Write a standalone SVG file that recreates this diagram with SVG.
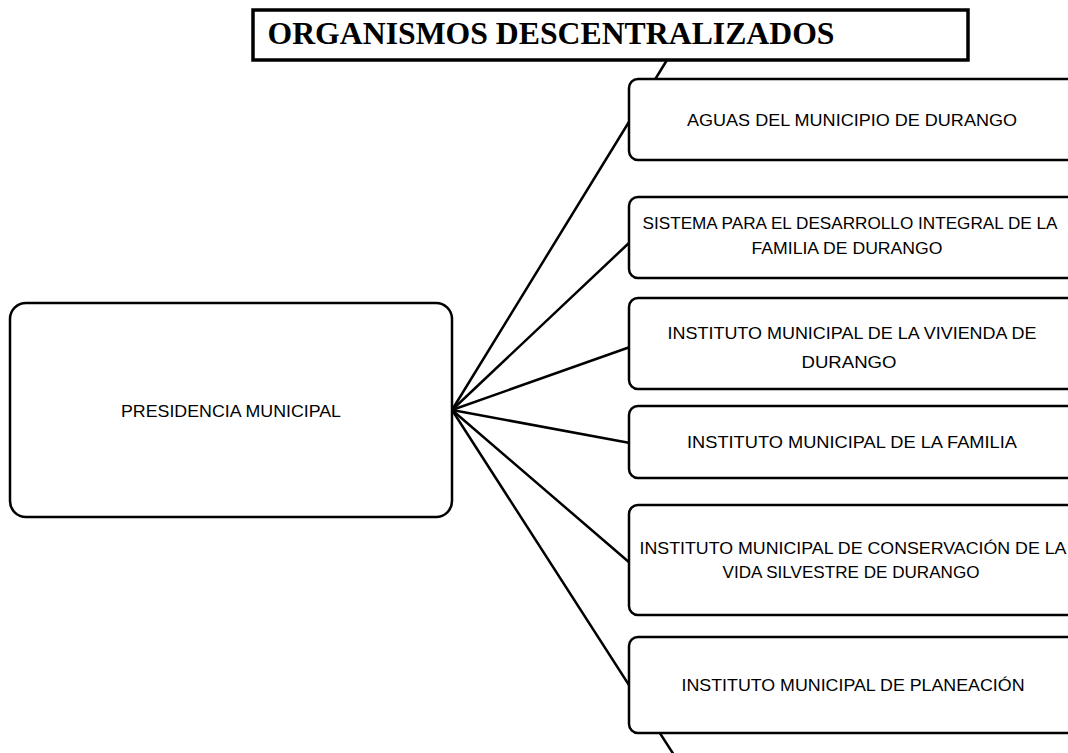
<svg xmlns="http://www.w3.org/2000/svg" width="1068" height="753" viewBox="0 0 1068 753">
<style>
.bx{fill:#fff;stroke:#000;stroke-width:2.5}
.ln{stroke:#000;stroke-width:2.5;fill:none;stroke-linecap:round}
.t{font-family:"Liberation Sans",Arial,sans-serif;font-size:17px;fill:#000;text-anchor:middle}
.tt{font-family:"Liberation Serif","Times New Roman",serif;font-size:31px;font-weight:bold;fill:#000;text-anchor:middle}
</style>
<rect width="1068" height="753" fill="#fff"/>
<g id="connectors">
<line class="ln" x1="452" y1="410" x2="667" y2="60"/>
<line class="ln" x1="452" y1="410" x2="630" y2="242"/>
<line class="ln" x1="452" y1="410" x2="630" y2="347"/>
<line class="ln" x1="452" y1="410" x2="630" y2="443"/>
<line class="ln" x1="452" y1="410" x2="630" y2="563"/>
<line class="ln" x1="452" y1="410" x2="674" y2="755"/>
</g>
<g id="title">
<rect x="253" y="10" width="715" height="50" fill="#fff" stroke="#000" stroke-width="3.5"/>
<text class="tt" x="551" y="44" textLength="567" lengthAdjust="spacingAndGlyphs">ORGANISMOS DESCENTRALIZADOS</text>
</g>
<g id="presidencia">
<rect class="bx" x="10" y="303" width="442" height="214" rx="16"/>
<text class="t" x="231" y="417" textLength="220" lengthAdjust="spacingAndGlyphs">PRESIDENCIA MUNICIPAL</text>
</g>
<g id="aguas">
<rect class="bx" x="629" y="79" width="460" height="81" rx="9"/>
<text class="t" x="852" y="126" textLength="330" lengthAdjust="spacingAndGlyphs">AGUAS DEL MUNICIPIO DE DURANGO</text>
</g>
<g id="dif">
<rect class="bx" x="629" y="197" width="460" height="81" rx="9"/>
<text class="t" x="850" y="229" textLength="415" lengthAdjust="spacingAndGlyphs">SISTEMA PARA EL DESARROLLO INTEGRAL DE LA</text>
<text class="t" x="847" y="254" textLength="191" lengthAdjust="spacingAndGlyphs">FAMILIA DE DURANGO</text>
</g>
<g id="vivienda">
<rect class="bx" x="629" y="298" width="460" height="91" rx="9"/>
<text class="t" x="852" y="339" textLength="369" lengthAdjust="spacingAndGlyphs">INSTITUTO MUNICIPAL DE LA VIVIENDA DE</text>
<text class="t" x="849" y="368" textLength="95" lengthAdjust="spacingAndGlyphs">DURANGO</text>
</g>
<g id="familia">
<rect class="bx" x="629" y="406" width="460" height="72" rx="9"/>
<text class="t" x="852" y="448" textLength="330" lengthAdjust="spacingAndGlyphs">INSTITUTO MUNICIPAL DE LA FAMILIA</text>
</g>
<g id="conservacion">
<rect class="bx" x="629" y="505" width="460" height="110" rx="9"/>
<text class="t" x="853" y="554" textLength="427" lengthAdjust="spacingAndGlyphs">INSTITUTO MUNICIPAL DE CONSERVACIÓN DE LA</text>
<text class="t" x="851" y="578" textLength="257" lengthAdjust="spacingAndGlyphs">VIDA SILVESTRE DE DURANGO</text>
</g>
<g id="planeacion">
<rect class="bx" x="629" y="637" width="460" height="96" rx="9"/>
<text class="t" x="853" y="691" textLength="343" lengthAdjust="spacingAndGlyphs">INSTITUTO MUNICIPAL DE PLANEACIÓN</text>
</g>
</svg>
